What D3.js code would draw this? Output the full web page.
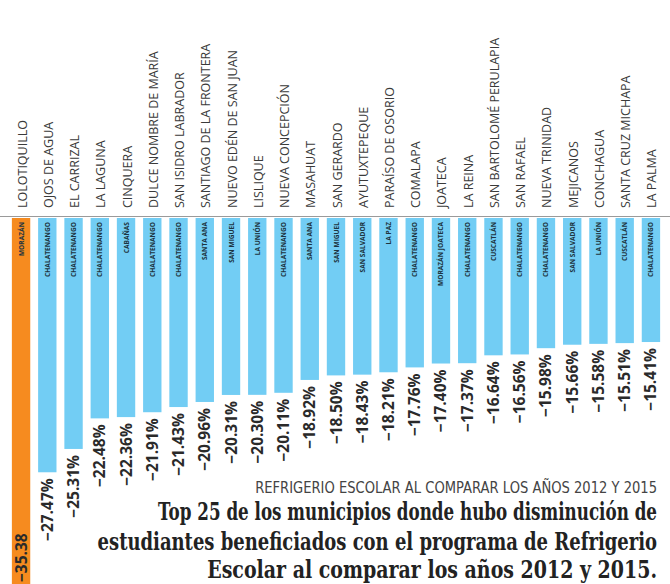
<!DOCTYPE html>
<html>
<head>
<meta charset="utf-8">
<script src="https://cdn.jsdelivr.net/npm/d3@7"></script>
<style>
  body { margin: 0; background: #fff; }
  svg { display: block; }
</style>
</head>
<body>
<svg width="670" height="584"></svg>
<script>
// datos: top 25 municipios, variación % 2012 vs 2015
var municipios = ["LOLOTIQUILLO", "OJOS DE AGUA", "EL CARRIZAL", "LA LAGUNA", "CINQUERA",
  "DULCE NOMBRE DE MARÍA", "SAN ISIDRO LABRADOR", "SANTIAGO DE LA FRONTERA", "NUEVO EDÉN DE SAN JUAN",
  "LISLIQUE", "NUEVA CONCEPCIÓN", "MASAHUAT", "SAN GERARDO", "AYUTUXTEPEQUE", "PARAÍSO DE OSORIO",
  "COMALAPA", "JOATECA", "LA REINA", "SAN BARTOLOMÉ PERULAPIA", "SAN RAFAEL", "NUEVA TRINIDAD",
  "MEJICANOS", "CONCHAGUA", "SANTA CRUZ MICHAPA", "LA PALMA"];

var departamentos = ["MORAZÁN", "CHALATENANGO", "CHALATENANGO", "CHALATENANGO", "CABAÑAS",
  "CHALATENANGO", "CHALATENANGO", "SANTA ANA", "SAN MIGUEL", "LA UNIÓN", "CHALATENANGO",
  "SANTA ANA", "SAN MIGUEL", "SAN SALVADOR", "LA PAZ", "CHALATENANGO", "MORAZÁN JOATECA",
  "CHALATENANGO", "CUSCATLÁN", "CHALATENANGO", "CHALATENANGO", "SAN SALVADOR", "LA UNIÓN",
  "CUSCATLÁN", "CHALATENANGO"];

var variacion = [-35.38, -27.47, -25.31, -22.48, -22.36, -21.91, -21.43, -20.96, -20.31, -20.30,
  -20.11, -18.92, -18.50, -18.43, -18.21, -17.76, -17.40, -17.37, -16.64, -16.56, -15.98,
  -15.66, -15.58, -15.51, -15.41];

var titulo = ["Top 25 de los municipios donde hubo disminución de",
  "estudiantes beneficiados con el programa de  Refrigerio",
  "Escolar al comparar los años 2012 y 2015."];
var subtitulo = "REFRIGERIO ESCOLAR AL COMPARAR LOS AÑOS 2012 Y 2015";

var datos = municipios.map(function(m, i) {
  return { nombre: m, depto: departamentos[i], valor: variacion[i] };
});

var svg = d3.select("svg"),
    width = +svg.attr("width"),
    height = +svg.attr("height"),
    top0 = 218;

var x = d3.scaleBand()
    .domain(municipios)
    .range([4, 668])
    .paddingInner(0.3)
    .paddingOuter(0.3);

// la escala no arranca en la línea base (así viene en el original)
var y = d3.scaleLinear()
    .domain([0, -40])
    .range([175.6, 175.6 + 432]);

var bw = x.bandwidth();
function cx(d) { return x(d.nombre) + bw / 2; }

// linea base gris
svg.append("line")
    .attr("x1", 0).attr("x2", width)
    .attr("y1", top0 - 1.5).attr("y2", top0 - 1.5)
    .attr("stroke", "#9a9a9a")
    .attr("stroke-width", 1.2);

// barras
svg.selectAll("rect.barra")
  .data(datos)
  .enter().append("rect")
    .attr("class", "barra")
    .attr("x", function(d) { return x(d.nombre); })
    .attr("y", top0)
    .attr("width", bw)
    .attr("height", function(d, i) { return (i === 0 ? height : y(d.valor)) - top0; })
    .attr("fill", function(d, i) { return i === 0 ? "#f68b1f" : "#72cdf4"; });

// nombres de municipios
svg.selectAll("text.nombre")
  .data(datos)
  .enter().append("text")
    .attr("class", "nombre")
    .attr("transform", function(d) { return "translate(" + (cx(d) + 5.5) + "," + (top0 - 10) + ") rotate(-90)"; })
    .attr("font-family", "'Open Sans', sans-serif")
    .attr("font-size", 12.5)
    .attr("fill", "#3a3a3a")
    .text(function(d) { return d.nombre; });

// departamentos dentro de la barra
svg.selectAll("text.depto")
  .data(datos)
  .enter().append("text")
    .attr("class", "depto")
    .attr("transform", function(d) { return "translate(" + (cx(d) + 2.5) + "," + (top0 + 4) + ") rotate(-90)"; })
    .attr("text-anchor", "end")
    .attr("font-family", "'Open Sans', sans-serif")
    .attr("font-weight", "bold")
    .attr("font-size", 6.6)
    .attr("fill", "#1d3440")
    .text(function(d) { return d.depto; });

// valores
function fmt(v) { return "\u2212" + d3.format(".2f")(Math.abs(v)); }

svg.selectAll("text.valor")
  .data(datos)
  .enter().append("text")
    .attr("class", "valor")
    .attr("transform", function(d, i) {
      if (i === 0) return "translate(" + (cx(d) + 5.5) + "," + (height - 2) + ") rotate(-90)";
      return "translate(" + (cx(d) + 5.5) + "," + (y(d.valor) + 6) + ") rotate(-90)";
    })
    .attr("text-anchor", function(d, i) { return i === 0 ? "start" : "end"; })
    .attr("font-family", "'Open Sans', sans-serif")
    .attr("font-weight", "bold")
    .attr("font-size", 15.5)
    .attr("fill", "#2a2a2a")
    .text(function(d, i) { return i === 0 ? fmt(d.valor) : fmt(d.valor) + "%"; });

// ajusta un texto al ancho deseado escalando solo en horizontal
function ajustar(sel, right, yy, ancho) {
  var w = sel.node().getComputedTextLength();
  sel.attr("text-anchor", "end")
     .attr("transform", "translate(" + right + "," + yy + ") scale(" + (ancho / w) + ",1)");
}

// subtitulo
var sub = svg.append("text")
    .attr("font-family", "'DejaVu Sans', sans-serif")
    .attr("font-size", 15)
    .attr("fill", "#444")
    .text(subtitulo);
ajustar(sub, 657, 493, 402);

// titulo
var lineasY = [520, 550, 578],
    lineasX0 = [158, 97, 207];
svg.selectAll("text.titulo")
  .data(titulo)
  .enter().append("text")
    .attr("class", "titulo")
    .attr("font-family", "'DejaVu Serif', serif")
    .attr("font-weight", "bold")
    .attr("font-size", 24)
    .attr("fill", "#222")
    .text(function(d) { return d; })
    .each(function(d, i) { ajustar(d3.select(this), 657, lineasY[i], 657 - lineasX0[i]); });
</script>
</body>
</html>
